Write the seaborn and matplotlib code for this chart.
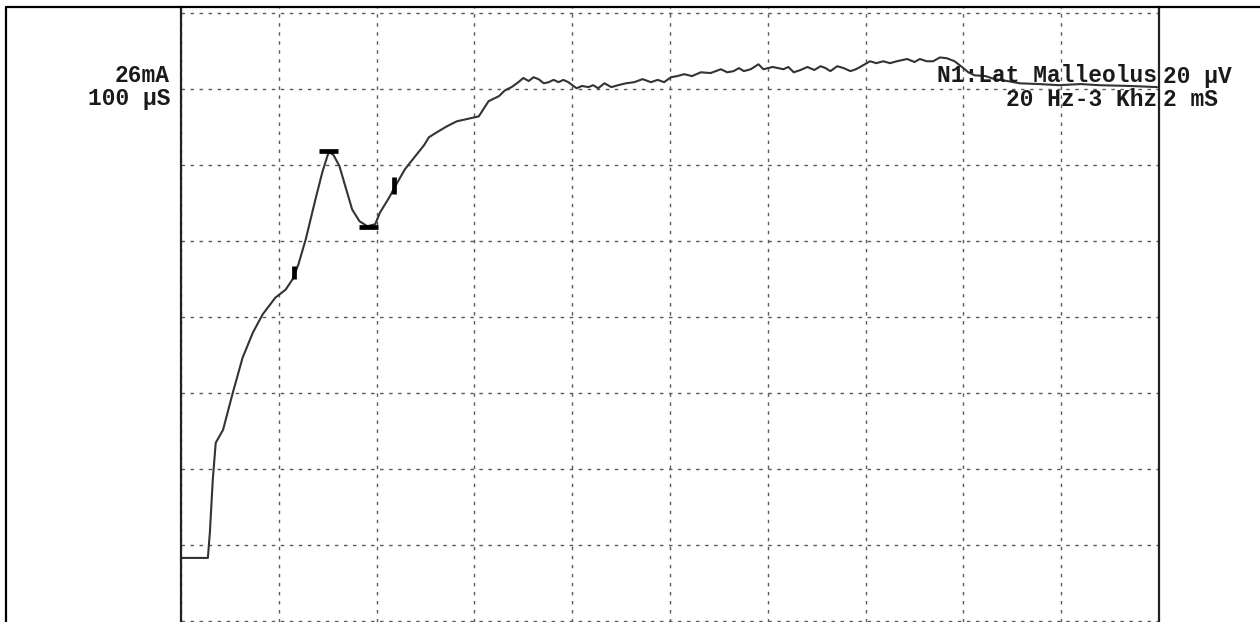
import numpy as np
import pandas as pd
import matplotlib
matplotlib.use("Agg")
import matplotlib.pyplot as plt
from matplotlib.lines import Line2D
import seaborn as sns

# ---- data: latency (ms) and amplitude (µV) ----
time_ms = [0.00, 0.55, 0.57, 0.59, 0.65, 0.71, 0.86, 1.06, 1.26, 1.47, 1.67, 1.93, 2.14,
           2.28, 2.40, 2.55, 2.75, 2.89, 3.00, 3.03, 3.12, 3.24, 3.36, 3.50, 3.65, 3.81,
           3.97, 4.07, 4.26, 4.38, 4.58, 4.79, 4.97, 5.07, 5.23, 5.44, 5.64, 5.85, 6.09,
           6.29, 6.50, 6.62, 6.76, 6.90, 7.00, 7.11, 7.21, 7.31, 7.42, 7.52, 7.62, 7.72,
           7.82, 7.92, 8.09, 8.20, 8.33, 8.43, 8.53, 8.66, 8.80, 8.94, 9.10, 9.27, 9.44,
           9.61, 9.75, 9.88, 10.02, 10.15, 10.29, 10.45, 10.63, 10.83, 11.04, 11.17, 11.30,
           11.41, 11.51, 11.65, 11.81, 11.91, 12.10, 12.32, 12.42, 12.53, 12.67, 12.81,
           12.95, 13.08, 13.18, 13.28, 13.42, 13.55, 13.69, 13.80, 13.89, 14.09, 14.22,
           14.36, 14.50, 14.64, 14.85, 15.00, 15.11, 15.25, 15.38, 15.52, 15.66, 15.82,
           15.97, 16.10, 16.23, 16.45, 16.64, 16.90, 17.15, 17.55, 17.96, 18.40, 18.78,
           19.40, 19.96]
amp_uv = [16.6, 16.6, 20.0, 23.2, 37.2, 46.9, 50.3, 60.1, 69.3, 75.9, 80.7, 85.1, 87.2,
          89.9, 93.8, 100.4, 111.0, 118.1, 122.6, 123.4, 122.6, 119.7, 114.4, 108.3, 105.2,
          103.9, 104.4, 107.5, 111.5, 114.4, 118.9, 122.3, 125.2, 127.3, 128.6, 130.2,
          131.5, 132.1, 132.8, 136.8, 138.1, 139.6, 140.5, 141.8, 142.9, 142.1, 143.1,
          142.6, 141.5, 141.8, 142.4, 141.8, 142.4, 141.8, 140.2, 140.8, 140.5, 141.0,
          140.2, 141.5, 140.5, 141.0, 141.5, 141.8, 142.6, 141.8, 142.4, 141.8, 143.1,
          143.4, 143.9, 143.4, 144.4, 144.2, 145.2, 144.4, 144.7, 145.5, 144.7, 145.2,
          146.5, 145.2, 145.8, 145.2, 145.8, 144.4, 145.0, 145.8, 145.0, 146.0, 145.5,
          144.7, 146.0, 145.5, 144.7, 145.2, 145.8, 147.3, 146.8, 147.3, 146.8, 147.3,
          147.9, 147.1, 147.9, 147.3, 147.3, 148.3, 148.1, 147.3, 145.8, 144.4, 143.6,
          143.4, 142.6, 142.1, 141.5, 141.3, 141.0, 141.3, 141.0, 140.8, 140.5]

# cursor markers
peak_marks_ms = [(2.83, 3.22), (3.65, 4.03)]     # horizontal bars
peak_marks_uv = [123.6, 103.6]
onset_marks_ms = [2.32, 4.36]                      # short vertical bars
onset_marks_uv = [(89.9, 93.3), (112.5, 116.8)]

left_labels = ["26mA", "100 µS"]
right_labels = ["N1:Lat Malleolus", "20 Hz-3 Khz"]
scale_labels = ["20 µV", "2 mS"]

df = pd.DataFrame({"time": time_ms, "amp": amp_uv})

W, H = 1260, 622
sns.set_theme(style="white")
plt.rcParams["font.family"] = ["Liberation Mono", "DejaVu Sans Mono"]
fig = plt.figure(figsize=(W / 100, H / 100), dpi=100)
fig.patch.set_facecolor("white")

ax_l, ax_r, ax_t, ax_b = 181, 1159, 7, 622
ax = fig.add_axes([ax_l / W, 1 - ax_b / H, (ax_r - ax_l) / W, (ax_b - ax_t) / H])
ax.set_facecolor("white")

px_per_uv = (621 - 13) / 160.0
ax.set_xlim(0, 20)
ax.set_ylim(-(ax_b - 621) / px_per_uv, 160 + (13 - ax_t) / px_per_uv)

ax.set_xticks(np.arange(0, 21, 2))
ax.set_yticks(np.arange(0, 161, 20))
ax.tick_params(length=0, labelbottom=False, labelleft=False)
ax.grid(True, color="#5a5a5a", linestyle=(0, (2.5, 4)), linewidth=1.0)
for s in ["top", "bottom"]:
    ax.spines[s].set_visible(False)
for s in ["left", "right"]:
    ax.spines[s].set_visible(True)
    ax.spines[s].set_color("#222222")
    ax.spines[s].set_linewidth(1.6)

sns.lineplot(data=df, x="time", y="amp", sort=False, ax=ax, color="#333333",
             linewidth=1.5, estimator=None)
ax.set_xlabel("")
ax.set_ylabel("")

for (x0, x1), yv in zip(peak_marks_ms, peak_marks_uv):
    ax.hlines(yv, x0, x1, color="black", linewidth=3.4)
for xv, (y0, y1) in zip(onset_marks_ms, onset_marks_uv):
    ax.vlines(xv, y0, y1, color="black", linewidth=3.4)

# text annotations (figure pixel coordinates)
def fx(px):
    return px / W

def fy(py):
    return 1 - py / H

tk = dict(fontsize=16.5, fontweight="bold", color="#1a1a1a", va="center")
fig.text(fx(170), fy(76), left_labels[0], ha="right", **tk)
fig.text(fx(170), fy(99), left_labels[1], ha="right", **tk)
fig.text(fx(1157), fy(76), right_labels[0], ha="right", **tk)
fig.text(fx(1157), fy(100), right_labels[1], ha="right", **tk)
fig.text(fx(1163), fy(76), scale_labels[0], ha="left", **tk)
fig.text(fx(1163), fy(100), scale_labels[1], ha="left", **tk)

# page border
fig.add_artist(Line2D([fx(6), 1.0], [fy(7), fy(7)], color="black", linewidth=1.6))
fig.add_artist(Line2D([fx(6), fx(6)], [fy(7), 0.0], color="black", linewidth=1.6))

fig.savefig("out.png", dpi=100, facecolor="white")
